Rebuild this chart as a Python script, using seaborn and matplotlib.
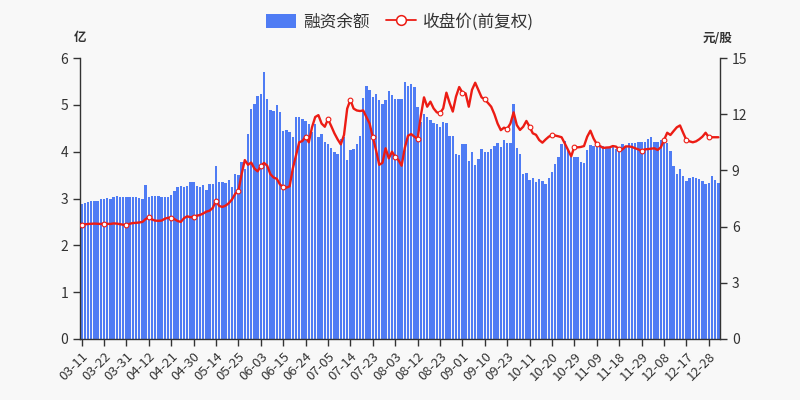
import numpy as np
import pandas as pd
import matplotlib
matplotlib.use("Agg")
import matplotlib.pyplot as plt
from matplotlib.patches import Patch
from matplotlib.lines import Line2D
import seaborn as sns

# ---------------- data ----------------
start_date = "2021-03-11"
end_date = "2021-12-31"
market_holidays = ["2021-04-05", "2021-05-03", "2021-05-04", "2021-05-05",
                   "2021-06-14", "2021-09-20", "2021-09-21", "2021-10-01",
                   "2021-10-04", "2021-10-05", "2021-10-06", "2021-10-07"]

# 融资余额 (亿)
balance = [
    2.89, 2.90, 2.92, 2.94, 2.94, 2.94, 2.99, 3.00, 3.01, 2.99,
    3.03, 3.05, 3.04, 3.04, 3.04, 3.04, 3.03, 3.04, 3.02, 3.00,
    3.29, 3.04, 3.05, 3.05, 3.05, 3.04, 3.04, 3.03, 3.08, 3.16,
    3.25, 3.26, 3.25, 3.27, 3.36, 3.35, 3.27, 3.24, 3.28, 3.18,
    3.30, 3.32, 3.70, 3.36, 3.36, 3.34, 3.40, 3.24, 3.53, 3.50,
    3.77, 3.64, 4.38, 4.92, 5.02, 5.18, 5.23, 5.71, 5.13, 4.90,
    4.86, 5.00, 4.85, 4.45, 4.47, 4.42, 4.32, 4.75, 4.75, 4.69,
    4.65, 4.60, 4.42, 4.60, 4.32, 4.37, 4.21, 4.17, 4.07, 4.00,
    3.94, 4.28, 4.32, 3.82, 4.03, 4.05, 4.17, 4.33, 5.14, 5.40,
    5.32, 5.17, 5.23, 5.10, 5.02, 5.10, 5.29, 5.22, 5.13, 5.12,
    5.12, 5.48, 5.41, 5.44, 5.38, 4.96, 4.64, 4.80, 4.73, 4.67,
    4.62, 4.60, 4.52, 4.63, 4.62, 4.33, 4.33, 3.96, 3.93, 4.16,
    4.16, 3.80, 4.00, 3.72, 3.84, 4.06, 4.00, 4.00, 4.05, 4.12,
    4.18, 4.09, 4.25, 4.19, 4.18, 5.01, 4.07, 3.96, 3.53, 3.55,
    3.39, 3.44, 3.35, 3.42, 3.38, 3.32, 3.43, 3.56, 3.73, 3.89,
    4.16, 4.23, 4.04, 3.89, 3.89, 3.89, 3.79, 3.75, 4.04, 4.14,
    4.12, 4.12, 4.09, 4.12, 4.07, 4.09, 4.09, 4.05, 4.09, 4.16,
    4.09, 4.18, 4.18, 4.19, 4.21, 4.21, 4.21, 4.26, 4.32, 4.21,
    4.21, 4.25, 4.21, 4.19, 4.01, 3.70, 3.52, 3.62, 3.48, 3.37,
    3.44, 3.45, 3.44, 3.41, 3.38, 3.32, 3.34, 3.48, 3.40, 3.34,
]

# 收盘价(前复权) (元/股)
close = [
    6.10, 6.12, 6.14, 6.15, 6.16, 6.15, 6.14, 6.16, 6.15, 6.14,
    6.17, 6.16, 6.13, 6.10, 6.10, 6.15, 6.19, 6.20, 6.22, 6.25,
    6.40, 6.50, 6.38, 6.32, 6.31, 6.32, 6.42, 6.47, 6.48, 6.40,
    6.30, 6.25, 6.45, 6.55, 6.50, 6.53, 6.58, 6.62, 6.70, 6.80,
    6.85, 7.00, 7.38, 7.10, 7.05, 7.12, 7.25, 7.45, 7.75, 7.90,
    8.80, 9.55, 9.30, 9.42, 9.10, 8.95, 9.23, 9.40, 9.25, 8.80,
    8.62, 8.55, 8.25, 8.10, 8.08, 8.15, 9.10, 9.80, 10.50, 10.57,
    10.80, 10.50, 11.30, 11.85, 11.95, 11.50, 11.33, 11.73, 11.37, 10.98,
    10.66, 10.39, 10.89, 12.30, 12.76, 12.30, 12.20, 12.17, 12.20, 11.85,
    11.50, 10.77, 10.09, 9.30, 9.40, 10.18, 9.64, 10.00, 9.70, 9.56,
    9.25, 10.20, 10.85, 10.94, 10.80, 10.68, 11.90, 12.90, 12.40, 12.67,
    12.31, 12.10, 12.05, 12.31, 13.15, 12.60, 12.14, 12.94, 13.45, 13.15,
    13.11, 12.40, 13.30, 13.68, 13.29, 12.90, 12.79, 12.60, 12.40, 12.00,
    11.50, 11.15, 11.28, 11.22, 11.50, 12.10, 11.42, 11.16, 11.33, 11.64,
    11.33, 10.98, 10.90, 10.62, 10.48, 10.65, 10.80, 10.89, 10.86, 10.82,
    10.77, 10.44, 10.09, 9.75, 10.27, 10.23, 10.25, 10.30, 10.80, 11.12,
    10.70, 10.40, 10.30, 10.20, 10.22, 10.23, 10.30, 10.27, 10.12, 10.12,
    10.28, 10.28, 10.25, 10.18, 10.12, 10.04, 10.12, 10.14, 10.16, 10.18,
    10.09, 10.23, 10.62, 11.01, 10.89, 11.10, 11.30, 11.40, 11.00, 10.62,
    10.55, 10.50, 10.55, 10.66, 10.80, 11.01, 10.77, 10.77, 10.77, 10.77,
]

series_names = ["融资余额", "收盘价(前复权)"]
left_unit = "亿"
right_unit = "元/股"

trade_days = pd.bdate_range(start_date, end_date, freq="C", holidays=market_holidays)
dates = [d.strftime("%m-%d") for d in trade_days][:len(balance)]

df = pd.DataFrame({"date": dates, "balance": balance, "close": close})
df["pos"] = np.arange(len(df))

# ---------------- style ----------------
sns.set_style("ticks")
plt.rcParams["font.family"] = ["Noto Sans CJK SC", "DejaVu Sans"]

BG = "#f8f8f8"
BAR = "#4f7cf4"
LINE = "#ec1c14"
TXT = "#333333"

fig = plt.figure(figsize=(8, 4), dpi=100, facecolor=BG)
ax = fig.add_axes([0.1, 0.1525, 0.8, 0.7025])
ax.set_facecolor(BG)

sns.barplot(data=df, x="date", y="balance", color=BAR, saturation=1,
            width=0.72, ax=ax, linewidth=0)

ax2 = ax.twinx()
sns.lineplot(data=df, x="pos", y="close", ax=ax2, color=LINE, linewidth=1.7,
             marker="o", markevery=7, markersize=3.4, markerfacecolor="white",
             markeredgecolor=LINE, markeredgewidth=0.8)
for ln in ax2.get_lines():
    ln.set_solid_joinstyle("round")

n = len(df)
ax.set_xlim(-0.5, n - 0.5)
ax.set_ylim(0, 6)
ax2.set_ylim(0, 15)
ax.set_yticks(range(0, 7))
ax2.set_yticks(range(0, 16, 3))

tick_pos = list(range(0, n, 7))
ax.set_xticks(tick_pos)
ax.set_xticklabels([dates[i] for i in tick_pos], rotation=45, ha="right",
                   rotation_mode="anchor", fontsize=9.5, color=TXT)
ax.set_xlabel("")
ax.set_ylabel("")
ax2.set_xlabel("")
ax2.set_ylabel("")

for a in (ax, ax2):
    a.tick_params(axis="y", labelsize=10, labelcolor=TXT, color=TXT,
                  length=5, width=1)
    a.spines["top"].set_visible(False)
    for s in ("left", "right", "bottom"):
        a.spines[s].set_color(TXT)
        a.spines[s].set_linewidth(1)
ax.spines["right"].set_visible(False)
ax2.spines["left"].set_visible(False)
ax2.spines["bottom"].set_visible(False)
ax.tick_params(axis="x", length=5, width=1, color=TXT, pad=3)
ax.grid(False)
ax2.grid(False)

fig.text(0.1, 0.905, left_unit, ha="center", va="center", fontsize=9,
         color=TXT, fontweight="bold")
fig.text(0.897, 0.905, right_unit, ha="center", va="center", fontsize=9,
         color=TXT, fontweight="bold")

handles = [
    Patch(facecolor=BAR, edgecolor="none"),
    Line2D([0], [0], color=LINE, linewidth=1.3, marker="o", markersize=7,
           markerfacecolor="white", markeredgecolor=LINE, markeredgewidth=1.1),
]
fig.legend(handles, series_names, loc="upper center", bbox_to_anchor=(0.5, 1.005),
           ncol=2, frameon=False, fontsize=12, handlelength=1.8,
           handleheight=0.9, columnspacing=1.0, handletextpad=0.4,
           labelcolor=TXT)

fig.savefig("out.png", dpi=100, facecolor=BG)
